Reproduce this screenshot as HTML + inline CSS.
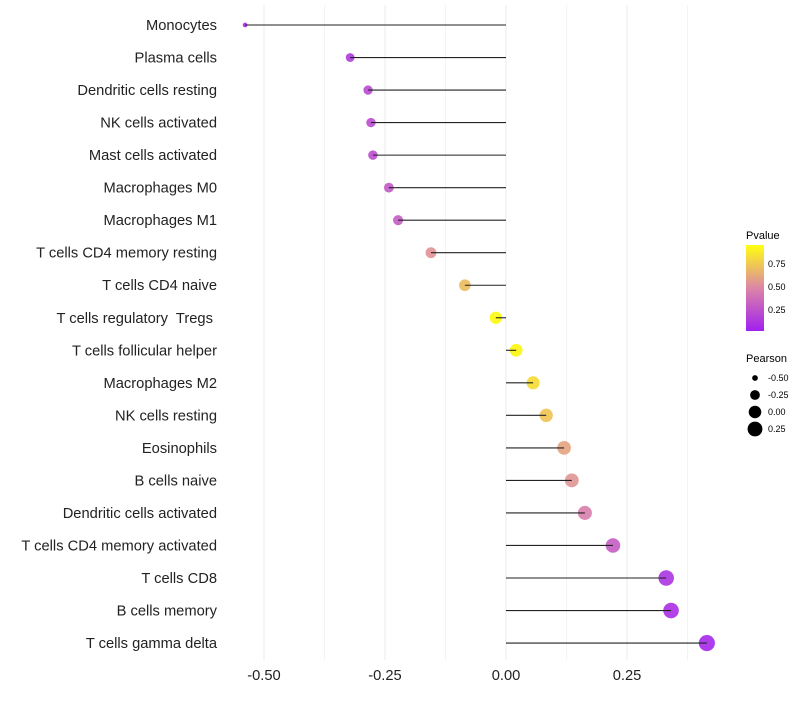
<!DOCTYPE html>
<html><head><meta charset="utf-8"><style>
body{margin:0;background:#fff;font-family:"Liberation Sans",sans-serif}
svg text{font-family:"Liberation Sans",sans-serif;white-space:pre}
</style></head><body>
<svg id="chart" width="800" height="700" xmlns="http://www.w3.org/2000/svg">
<defs><linearGradient id="pg" x1="0" y1="1" x2="0" y2="0">
<stop offset="0" stop-color="#a020f0"/><stop offset="0.5" stop-color="#dc86a6"/><stop offset="1" stop-color="#ffff10"/></linearGradient></defs>
<g id="grid"></g><g id="dots"></g><g id="marks"></g><g id="labels"></g><g id="legend"></g>
</svg>
<script>
const categories=["Monocytes","Plasma cells","Dendritic cells resting","NK cells activated","Mast cells activated","Macrophages M0","Macrophages M1","T cells CD4 memory resting","T cells CD4 naive","T cells regulatory  Tregs ","T cells follicular helper","Macrophages M2","NK cells resting","Eosinophils","B cells naive","Dendritic cells activated","T cells CD4 memory activated","T cells CD8","B cells memory","T cells gamma delta"];
const pearson=[-0.539,-0.322,-0.285,-0.279,-0.275,-0.242,-0.223,-0.155,-0.085,-0.021,0.021,0.056,0.083,0.12,0.136,0.163,0.221,0.331,0.341,0.415];
const pvalue=[0.04,0.12,0.2,0.22,0.22,0.28,0.3,0.55,0.72,0.97,0.96,0.85,0.75,0.62,0.56,0.46,0.3,0.1,0.08,0.04];
const xTicks=[-0.5,-0.25,0,0.25];
const xTickLabels=["-0.50","-0.25","0.00","0.25"];
const NS="http://www.w3.org/2000/svg";
const xS=v=>506+v*484;
const yS=i=>25+i*32.53;
const rS=p=>1.08*Math.sqrt(Math.max(1,4.8+53.6*(p+0.54)));
function lerp(a,b,t){return a.map((v,i)=>Math.round(v+(b[i]-v)*t));}
function col(p){const lo=[160,32,240],mid=[220,134,166],hi=[255,255,0];
 const c=p<0.5?lerp(lo,mid,p/0.5):lerp(mid,hi,(p-0.5)/0.5);return `rgb(${c})`;}
function mk(tag,attrs,parent){const e=document.createElementNS(NS,tag);for(const k in attrs)e.setAttribute(k,attrs[k]);document.getElementById(parent).appendChild(e);return e;}
for(let v=-0.5;v<=0.38;v+=0.125){const e=mk('line',{x1:xS(v),x2:xS(v),y1:5,y2:660,stroke:'#ebebeb','stroke-width':Math.abs((v*4)%1)<0.01?1:0.6},'grid');

}
xTicks.forEach((v,i)=>{const t=mk('text',{x:xS(v),y:680,'text-anchor':'middle','font-size':14.7,fill:'#222'},'labels');t.textContent=xTickLabels[i];

});
categories.forEach((c,i)=>{const y=yS(i);
 const d=mk('circle',{cx:xS(pearson[i]),cy:y,r:rS(pearson[i]),fill:col(pvalue[i]),'fill-opacity':0.9},'dots');
 
 
 const l=mk('line',{x1:xS(0),x2:xS(pearson[i]),y1:y,y2:y,stroke:'#222','stroke-width':1.1},'marks');
 
 
 const t=mk('text',{x:217,y:y+5,'text-anchor':'end','font-size':14.7,fill:'#222'},'labels');t.textContent=c;
 
 });
const lg=[['text',{x:746,y:239,'font-size':11},'Pvalue'],['rect',{x:746,y:245,width:18,height:86,fill:'url(#pg)'}],
['text',{x:768,y:267,'font-size':9},'0.75'],['text',{x:768,y:290,'font-size':9},'0.50'],['text',{x:768,y:313,'font-size':9},'0.25'],
['text',{x:746,y:362,'font-size':11},'Pearson']];
lg.forEach(a=>{const e=mk(a[0],a[1],'legend');if(a[2])e.textContent=a[2];
 
 });
const legP=[-0.5,-0.25,0,0.25],legL=["-0.50","-0.25","0.00","0.25"];
legP.forEach((p,i)=>{const y=378+i*17;const c=mk('circle',{cx:755,cy:y,r:rS(p),fill:'#000'},'legend');
 
 
 const t=mk('text',{x:768,y:y+3,'font-size':9},'legend');t.textContent=legL[i];
 
 });
</script>
</body></html>
